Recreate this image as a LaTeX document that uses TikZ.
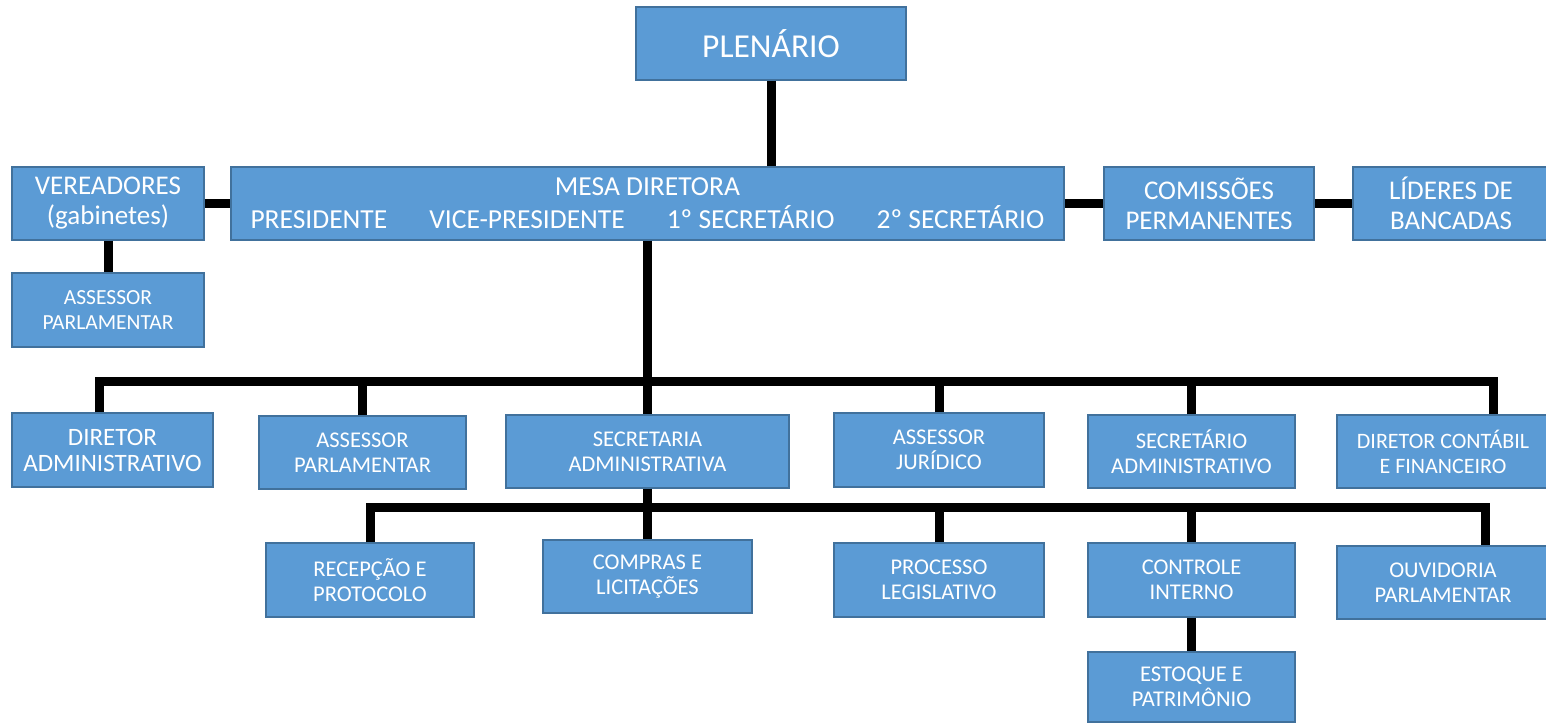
\documentclass[tikz,border=0pt]{standalone}
\usepackage{fontspec}
\setmainfont{Carlito}
\definecolor{boxfill}{HTML}{5B9BD5}
\definecolor{boxline}{HTML}{41719C}
\begin{document}
\begin{tikzpicture}[x=1pt,y=-1pt,
  box/.style={draw=boxline, line width=1.2pt, fill=boxfill, text=white, inner sep=0pt,
    align=center, font=\fontsize{22.5}{25}\selectfont},
  bigtext/.style={font=\fontsize{27}{30}\selectfont},
  conn/.style={line width=9pt, black, line join=miter}]
\useasboundingbox (0,0) rectangle (1546,724);
% top level
\node[box, minimum width=270pt, minimum height=73pt, font=\fontsize{33.5}{38}\selectfont] (plen) at (771,43.5) {PLENÁRIO};
\node[box, bigtext, minimum width=192pt, minimum height=73pt] (ver) at (108,203.5) {VEREADORES\\(gabinetes)};
\node[box, minimum width=833pt, minimum height=73pt, font=\fontsize{27.5}{33}\selectfont] (mesa) at (647.5,203.5)
  {MESA DIRETORA\\\makebox[794pt][s]{PRESIDENTE\hfill VICE-PRESIDENTE\hfill 1º SECRETÁRIO\hfill 2º SECRETÁRIO}};
\node[box, bigtext, minimum width=210pt, minimum height=73pt] (com) at (1209,203.5) {COMISSÕES\\PERMANENTES};
\node[box, bigtext, minimum width=196pt, minimum height=73pt] (lid) at (1451,203.5) {LÍDERES DE\\BANCADAS};
\node[box, minimum width=192pt, minimum height=74pt, font=\fontsize{21.5}{25}\selectfont] (asl) at (108,310) {ASSESSOR\\PARLAMENTAR};
% second level
\node[box, minimum width=201pt, minimum height=74pt, font=\fontsize{25}{26}\selectfont] (dadm) at (112.5,450) {DIRETOR\\ADMINISTRATIVO};
\node[box, minimum width=207pt, minimum height=73pt] (apar) at (362.5,452.5) {ASSESSOR\\PARLAMENTAR};
\node[box, minimum width=283pt, minimum height=73pt] (sadm) at (647.5,451.5) {SECRETARIA\\ADMINISTRATIVA};
\node[box, minimum width=210pt, minimum height=74pt] (ajur) at (939,450) {ASSESSOR\\JURÍDICO};
\node[box, minimum width=207pt, minimum height=73pt] (secadm) at (1191.5,451.5) {SECRETÁRIO\\ADMINISTRATIVO};
\node[box, minimum width=212pt, minimum height=73pt, font=\fontsize{22}{25}\selectfont] (dcont) at (1443,451.5) {DIRETOR CONTÁBIL\\E FINANCEIRO};
% third level
\node[box, minimum width=208pt, minimum height=74pt] (rec) at (370,580) {RECEPÇÃO E\\PROTOCOLO};
\node[box, minimum width=209pt, minimum height=73pt] (comp) at (647.5,576.5) {COMPRAS E\\LICITAÇÕES};
\node[box, minimum width=210pt, minimum height=74pt] (proc) at (939,580) {PROCESSO\\LEGISLATIVO};
\node[box, minimum width=207pt, minimum height=74pt] (ctrl) at (1191.5,580) {CONTROLE\\INTERNO};
\node[box, minimum width=212pt, minimum height=73pt] (ouv) at (1443,582.5) {OUVIDORIA\\PARLAMENTAR};
\node[box, minimum width=207pt, minimum height=70pt] (est) at (1191.5,687) {ESTOQUE E\\PATRIMÔNIO};
% bus coordinates
\coordinate (b1l) at (99,381);
\coordinate (b1r) at (1493,381);
\coordinate (b2l) at (370,507);
\coordinate (b2r) at (1485,507);
% connectors
\draw[conn] (plen.south) -- (plen.south |- mesa.north);
\draw[conn] (ver.east) -- (mesa.west);
\draw[conn] (mesa.east) -- (com.west);
\draw[conn] (com.east) -- (lid.west);
\draw[conn] (ver.south) -- (asl.north);
\draw[conn] (mesa.south) -- (sadm.north);
\draw[conn] (dadm.north -| b1l) -- (b1l) -- (b1r) -- (dcont.north -| b1r);
\draw[conn] (apar.north) -- (apar.north |- b1l);
\draw[conn] (ajur.north) -- (ajur.north |- b1l);
\draw[conn] (secadm.north) -- (secadm.north |- b1l);
\draw[conn] (sadm.south) -- (comp.north);
\draw[conn] (rec.north) -- (b2l) -- (b2r) -- (ouv.north -| b2r);
\draw[conn] (proc.north) -- (proc.north |- b2l);
\draw[conn] (ctrl.north) -- (ctrl.north |- b2l);
\draw[conn] (ctrl.south) -- (est.north);
\end{tikzpicture}
\end{document}
